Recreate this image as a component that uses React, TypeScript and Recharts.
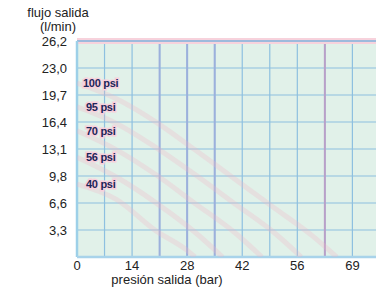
import React from 'react'
import { LineChart, Line, XAxis, YAxis, CartesianGrid, ReferenceLine } from 'recharts'

const xTickValues = [0, 14, 28, 42, 56, 70]
const xTickLabels = ['0', '14', '28', '42', '56', '69']
const yTickValues = [3.275, 6.55, 9.825, 13.1, 16.375, 19.65, 22.925, 26.2]
const yTickLabels = ['3,3', '6,6', '9,8', '13,1', '16,4', '19,7', '23,0', '26,2']
const gridX = [7, 14, 21, 28, 35, 42, 49, 56, 63, 70]
const strongGridX = [21, 28, 35, 63]

const psi100 = [
  { x: 0, y: 21.1 }, { x: 10, y: 19.2 }, { x: 20, y: 16.4 }, { x: 30, y: 13 },
  { x: 40, y: 9.5 }, { x: 50, y: 6 }, { x: 60, y: 2.5 }, { x: 66, y: 0 },
]
const psi95 = [
  { x: 0, y: 18.2 }, { x: 10, y: 16.2 }, { x: 20, y: 13.3 }, { x: 30, y: 10 },
  { x: 40, y: 6.5 }, { x: 50, y: 3 }, { x: 57, y: 0 },
]
const psi70 = [
  { x: 0, y: 15.3 }, { x: 10, y: 13 }, { x: 20, y: 10 }, { x: 30, y: 6.5 },
  { x: 40, y: 3 }, { x: 47, y: 0 },
]
const psi56 = [
  { x: 0, y: 12.1 }, { x: 10, y: 9.7 }, { x: 20, y: 6.6 }, { x: 30, y: 3 }, { x: 37, y: 0 },
]
const psi40 = [
  { x: 0, y: 8.85 }, { x: 10, y: 7 }, { x: 20, y: 3.2 }, { x: 28, y: 0.8 }, { x: 30, y: 0 },
]

const series = [
  { name: '100 psi', data: psi100, dx: 6 },
  { name: '95 psi', data: psi95, dx: 9 },
  { name: '70 psi', data: psi70, dx: 9 },
  { name: '56 psi', data: psi56, dx: 9 },
  { name: '40 psi', data: psi40, dx: 9 },
]

const FONT = '"Liberation Sans", Arial, sans-serif'

export default function App() {
  return (
    <div style={{ position: 'absolute', left: 0, top: 0, width: 376, height: 289, background: '#fff', fontFamily: FONT }}>
      <div style={{ position: 'absolute', left: 0, top: 6, width: 116, textAlign: 'center', fontSize: 13, lineHeight: '14px', color: '#222' }}>
        flujo salida
        <br />
        (l/min)
      </div>
      <div style={{ position: 'absolute', left: 67, top: 274, width: 200, textAlign: 'center', fontSize: 13, lineHeight: '12px', color: '#222' }}>
        presión salida (bar)
      </div>
      <LineChart width={376} height={289} margin={{ top: 41, right: 0, bottom: 0, left: 0 }}>
        <CartesianGrid
          fill="#e1f1e9"
          stroke="#8ec0e0"
          strokeWidth={1.2}
          horizontalValues={yTickValues}
          verticalValues={gridX}
        />
        {strongGridX.map((v) => (
          <ReferenceLine key={v} x={v} stroke={v === 63 ? '#b9a0c8' : '#9cb0dc'} strokeWidth={2} />
        ))}
        <ReferenceLine y={26.2} stroke="#f7d2dc" strokeWidth={6} />
        <ReferenceLine y={26.2} stroke="#7fb2dc" strokeWidth={1.5} />
        <ReferenceLine x={0} stroke="#9dd0e8" strokeWidth={2.5} />
        <ReferenceLine y={0} stroke="#a8d3ea" strokeWidth={2.5} />
        <XAxis
          type="number"
          dataKey="x"
          domain={[0, 76]}
          ticks={xTickValues}
          tickFormatter={(v: number) => xTickLabels[xTickValues.indexOf(v)] ?? ''}
          axisLine={false}
          tickLine={false}
          tickSize={0}
          tickMargin={4}
          height={32}
          tick={{ fill: '#222', fontSize: 13, fontFamily: FONT }}
          allowDataOverflow
        />
        <YAxis
          type="number"
          domain={[0, 26.2]}
          ticks={yTickValues}
          tickFormatter={(v: number) => yTickLabels[yTickValues.indexOf(v)] ?? ''}
          axisLine={false}
          tickLine={false}
          tickSize={0}
          tickMargin={10}
          width={77}
          tick={{ fill: '#222', fontSize: 13, fontFamily: FONT }}
          allowDataOverflow
        />
        {series.map((s) => (
          <Line
            key={s.name}
            data={s.data}
            dataKey="y"
            type="monotone"
            stroke="#f0b4c4"
            strokeOpacity={0.28}
            strokeWidth={5}
            dot={false}
            isAnimationActive={false}
            label={(p: any) =>
              p.index === 0 ? (
                <text
                  key={s.name}
                  x={p.x + s.dx}
                  y={p.y}
                  dominantBaseline="central"
                  fontSize={11}
                  fontFamily={FONT}
                  fontWeight={600}
                  fill="#1c2658"
                  stroke="#f8d0dc"
                  strokeWidth={3}
                  paintOrder="stroke"
                  letterSpacing={-0.3}
                >
                  {s.name}
                </text>
              ) : null
            }
          />
        ))}
      </LineChart>
    </div>
  )
}
